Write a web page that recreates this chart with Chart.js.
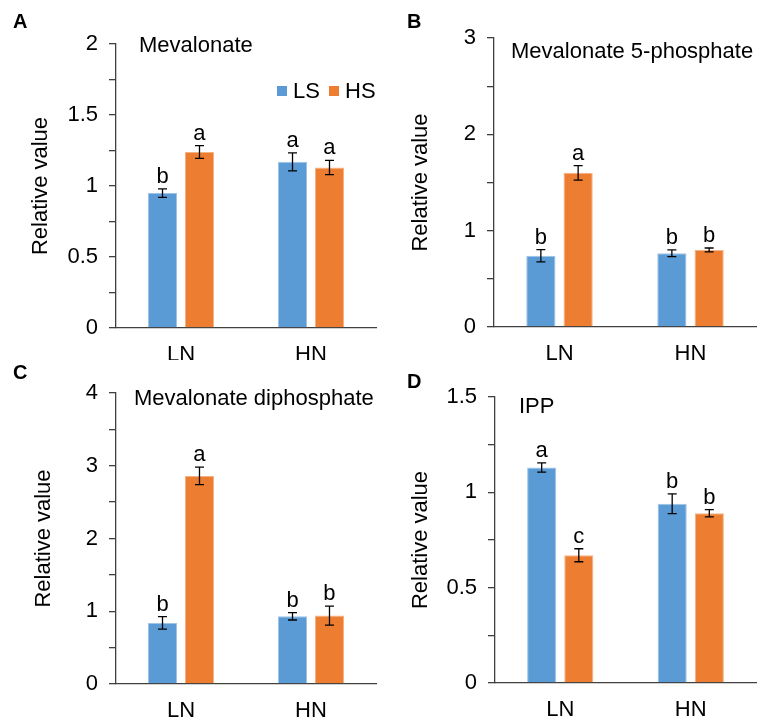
<!DOCTYPE html>
<html>
<head>
<meta charset="utf-8">
<script src="https://cdn.jsdelivr.net/npm/chart.js@4/dist/chart.umd.min.js"></script>
<style>
  body { margin: 0; background: #fff; }
  #wrap { position: relative; width: 760px; height: 720px; }
  #wrap canvas { position: absolute; }
</style>
</head>
<body>
<div id="wrap">
  <canvas id="chartA" width="380" height="360" style="left:0;top:0"></canvas>
  <canvas id="chartB" width="380" height="360" style="left:380px;top:0"></canvas>
  <canvas id="chartC" width="380" height="360" style="left:0;top:360px"></canvas>
  <canvas id="chartD" width="380" height="360" style="left:380px;top:360px"></canvas>
</div>
<script>
const categories = ['LN', 'HN'];
const seriesNames = ['LS', 'HS'];

// A - Mevalonate
const mvaLS = [0.95, 1.17];
const mvaHS = [1.24, 1.13];
const mvaLSErr = [0.03, 0.063];
const mvaHSErr = [0.045, 0.05];
const mvaLSSig = ['b', 'a'];
const mvaHSSig = ['a', 'a'];

// B - Mevalonate 5-phosphate
const mvpLS = [0.74, 0.765];
const mvpHS = [1.6, 0.80];
const mvpLSErr = [0.064, 0.035];
const mvpHSErr = [0.076, 0.02];
const mvpLSSig = ['b', 'b'];
const mvpHSSig = ['a', 'b'];

// C - Mevalonate diphosphate
const mvppLS = [0.84, 0.93];
const mvppHS = [2.86, 0.94];
const mvppLSErr = [0.087, 0.05];
const mvppHSErr = [0.12, 0.13];
const mvppLSSig = ['b', 'b'];
const mvppHSSig = ['a', 'b'];

// D - IPP
const ippLS = [1.13, 0.94];
const ippHS = [0.67, 0.89];
const ippLSErr = [0.024, 0.052];
const ippHSErr = [0.034, 0.019];
const ippLSSig = ['a', 'b'];
const ippHSSig = ['c', 'b'];

const titles = ['Mevalonate', 'Mevalonate 5-phosphate', 'Mevalonate diphosphate', 'IPP'];
const panelLetters = ['A', 'B', 'C', 'D'];
const yMax = [2, 3, 4, 1.5];
const yTickStep = [0.25, 0.5, 0.5, 0.25];
const yLabelStep = [0.5, 1, 1, 0.5];

const colors = ['#5B9BD5', '#ED7D31'];
const edgeColors = ['#9DC3E6', '#F4B183'];
const FONT = "'Liberation Sans', Arial, sans-serif";

// per-panel layout (pixels inside each 380x360 canvas)
const layoutInfo = [
  { left: 116, top: 44, bottom: 328, letter: [13, 28], title: [23, 2], yTitlePad: 28, legend: true },
  { left: 114, top: 38, bottom: 327, letter: [27, 28], title: [17, 14], yTitlePad: 28, legend: false },
  { left: 116, top: 33, bottom: 324, letter: [13, 19], title: [18, 6], yTitlePad: 31, legend: false },
  { left: 115, top: 37, bottom: 323, letter: [27, 28], title: [24, 10], yTitlePad: 28, legend: false }
];

const extrasPlugin = {
  id: 'extras',
  afterDatasetsDraw(chart, args, opts) {
    const ctx = chart.ctx;
    const y = chart.scales.y;
    const area = chart.chartArea;
    ctx.save();
    // error bars and letters
    chart.data.datasets.forEach((ds, i) => {
      const meta = chart.getDatasetMeta(i);
      meta.data.forEach((bar, j) => {
        const v = ds.data[j];
        const e = ds.errors[j];
        const yt = y.getPixelForValue(v + e);
        const yb = y.getPixelForValue(v - e);
        ctx.strokeStyle = '#000';
        ctx.lineWidth = 1.3;
        ctx.beginPath();
        ctx.moveTo(bar.x, yt); ctx.lineTo(bar.x, yb);
        ctx.moveTo(bar.x - 4.5, yt); ctx.lineTo(bar.x + 4.5, yt);
        ctx.moveTo(bar.x - 4.5, yb); ctx.lineTo(bar.x + 4.5, yb);
        ctx.stroke();
        ctx.fillStyle = '#000';
        ctx.font = '22px ' + FONT;
        ctx.textAlign = 'center';
        ctx.textBaseline = 'alphabetic';
        ctx.fillText(ds.letters[j], bar.x, yt - 6);
      });
    });
    // panel title in plot area
    ctx.font = '22px ' + FONT;
    ctx.textAlign = 'left';
    ctx.textBaseline = 'middle';
    ctx.fillStyle = '#000';
    ctx.fillText(opts.title, area.left + opts.titlePos[0], area.top + opts.titlePos[1]);
    // panel letter
    ctx.font = 'bold 20px ' + FONT;
    ctx.textBaseline = 'alphabetic';
    ctx.fillText(opts.letter, opts.letterPos[0], opts.letterPos[1]);
    // legend
    if (opts.legend) {
      let x = 277;
      chart.data.datasets.forEach((ds, i) => {
        ctx.fillStyle = ds.backgroundColor;
        ctx.fillRect(x, 86, 10, 10);
        ctx.fillStyle = '#000';
        ctx.font = '22px ' + FONT;
        ctx.textBaseline = 'middle';
        ctx.fillText(ds.label, x + 16, 92);
        x += 52;
      });
    }
    ctx.restore();
  }
};

function makeChart(id, k, ls, hs, lsErr, hsErr, lsSig, hsSig) {
  const L = layoutInfo[k];
  const ctx = document.getElementById(id).getContext('2d');
  return new Chart(ctx, {
    type: 'bar',
    data: {
      labels: categories,
      datasets: [
        { label: seriesNames[0], data: ls, errors: lsErr, letters: lsSig,
          backgroundColor: colors[0], borderColor: edgeColors[0], borderWidth: 1 },
        { label: seriesNames[1], data: hs, errors: hsErr, letters: hsSig,
          backgroundColor: colors[1], borderColor: edgeColors[1], borderWidth: 1 }
      ]
    },
    options: {
      responsive: false,
      animation: false,
      devicePixelRatio: 1,
      layout: { padding: { left: 0, top: L.top, right: 4, bottom: 0 } },
      datasets: { bar: { categoryPercentage: 0.569, barPercentage: 0.784 } },
      plugins: {
        legend: { display: false },
        tooltip: { enabled: false },
        extras: {
          title: titles[k], titlePos: L.title,
          letter: panelLetters[k], letterPos: L.letter,
          legend: L.legend
        }
      },
      scales: {
        x: {
          grid: { drawOnChartArea: false, drawTicks: false },
          border: { color: '#404040', width: 1.3 },
          ticks: { color: '#000', padding: 14, font: { family: FONT, size: 22 } },
          afterFit(scale) { scale.height = 360 - L.bottom; }
        },
        y: {
          min: 0,
          max: yMax[k],
          grid: { drawOnChartArea: false, drawTicks: true, tickLength: 7, color: '#404040', lineWidth: 1.3 },
          border: { color: '#404040', width: 1.3 },
          ticks: {
            stepSize: yTickStep[k],
            autoSkip: false,
            color: '#000',
            padding: 11,
            font: { family: FONT, size: 22 },
            callback(value) {
              const r = value / yLabelStep[k];
              return Math.abs(r - Math.round(r)) < 1e-6 ? String(value) : '';
            }
          },
          title: {
            display: true, text: 'Relative value', color: '#000',
            font: { family: FONT, size: 22 },
            padding: { top: L.yTitlePad, bottom: 0 }
          },
          afterFit(scale) { scale.width = L.left; }
        }
      }
    },
    plugins: [extrasPlugin]
  });
}

makeChart('chartA', 0, mvaLS, mvaHS, mvaLSErr, mvaHSErr, mvaLSSig, mvaHSSig);
makeChart('chartB', 1, mvpLS, mvpHS, mvpLSErr, mvpHSErr, mvpLSSig, mvpHSSig);
makeChart('chartC', 2, mvppLS, mvppHS, mvppLSErr, mvppHSErr, mvppLSSig, mvppHSSig);
makeChart('chartD', 3, ippLS, ippHS, ippLSErr, ippHSErr, ippLSSig, ippHSSig);
</script>
</body>
</html>
